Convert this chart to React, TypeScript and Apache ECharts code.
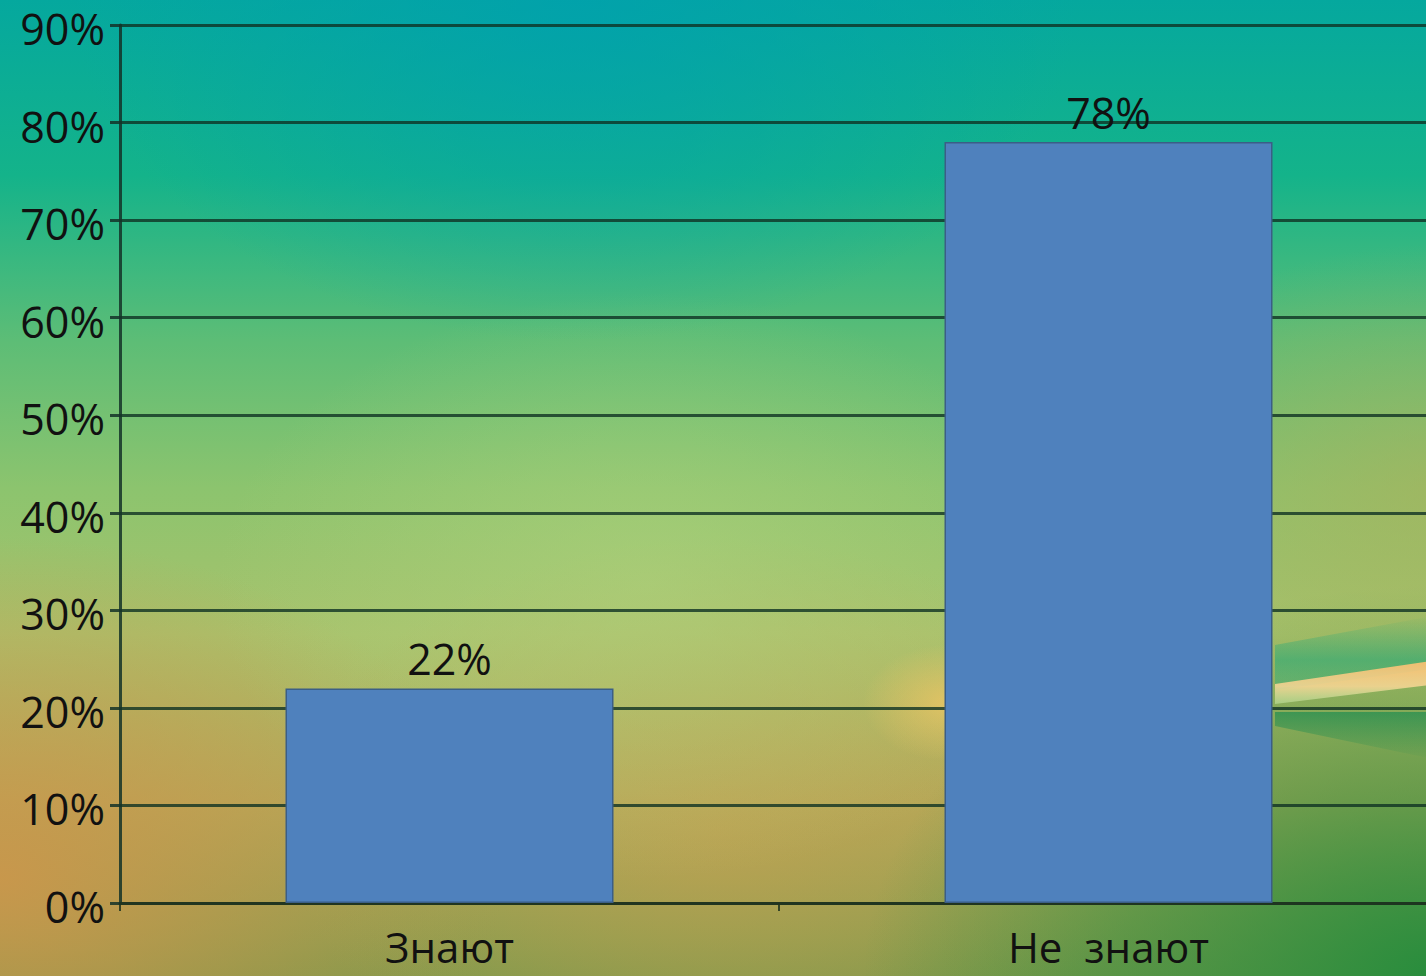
import React, { useEffect, useRef } from "react";
import * as echarts from "echarts";

const categories = ["Знают", "Не  знают"];
const values = [22, 78];
const yTicks = { min: 0, max: 90, interval: 10 };

export default function App() {
  const ref = useRef<HTMLDivElement>(null);
  useEffect(() => {
    if (!ref.current) return;
    const chart = echarts.init(ref.current, null, { renderer: "svg" });
    const font = "'Open Sans', 'Noto Sans', sans-serif";
    const W = 1438, H = 976;
    const rad = (cx: number, cy: number, r: number, stops: [number, string][]) =>
      new echarts.graphic.RadialGradient(cx, cy, r, stops.map(([o, c]) => ({ offset: o, color: c })));
    const lin = (x1: number, y1: number, x2: number, y2: number, stops: [number, string][]) =>
      new echarts.graphic.LinearGradient(x1, y1, x2, y2, stops.map(([o, c]) => ({ offset: o, color: c })));
    const full = { x: 0, y: 0, width: W, height: H };
    chart.setOption({
      animation: false,
      backgroundColor: lin(0, 0, 0, 1, [
        [0, "#05a89e"],
        [0.18, "#14b38a"],
        [0.35, "#5dbd76"],
        [0.5, "#8cc46e"],
        [0.65, "#a8c26c"],
        [0.82, "#b0aa5a"],
        [1, "#7f9a4c"],
      ]),
      graphic: [
        { type: "rect", z: -10, silent: true, shape: full,
          style: { fill: rad(0.4, 0.0, 0.35, [[0, "rgba(0,160,175,0.75)"], [1, "rgba(0,160,175,0)"]]) } },
        { type: "rect", z: -10, silent: true, shape: full,
          style: { fill: rad(0.0, 0.9, 0.35, [[0, "rgba(205,150,75,0.9)"], [1, "rgba(205,150,75,0)"]]) } },
        { type: "rect", z: -10, silent: true, shape: full,
          style: { fill: rad(0.5, 0.85, 0.3, [[0, "rgba(200,160,80,0.6)"], [1, "rgba(200,160,80,0)"]]) } },
        { type: "rect", z: -10, silent: true, shape: full,
          style: { fill: rad(1.0, 1.0, 0.4, [[0, "rgba(35,140,60,0.95)"], [1, "rgba(35,140,60,0)"]]) } },
        { type: "rect", z: -10, silent: true, shape: full,
          style: { fill: rad(1.0, 0.5, 0.25, [[0, "rgba(170,175,90,0.6)"], [1, "rgba(170,175,90,0)"]]) } },
        { type: "rect", z: -10, silent: true, shape: full,
          style: { fill: rad(0.45, 0.6, 0.3, [[0, "rgba(175,210,125,0.6)"], [1, "rgba(175,210,125,0)"]]) } },
        { type: "rect", z: -10, silent: true, shape: full,
          style: { fill: rad(0.66, 0.72, 0.06, [[0, "rgba(245,200,100,0.7)"], [1, "rgba(245,200,100,0)"]]) } },
        { type: "polygon", z: -9, silent: true,
          shape: { points: [[1275, 645], [1438, 615], [1438, 668], [1275, 690]] },
          style: { fill: lin(0, 0, 0, 1, [[0, "rgba(40,170,120,0)"], [0.6, "rgba(40,170,120,0.6)"], [1, "rgba(60,175,120,0.45)"]]) } },
        { type: "polygon", z: -9, silent: true,
          shape: { points: [[1275, 684], [1438, 660], [1438, 684], [1275, 704]] },
          style: { fill: lin(0, 0, 0, 1, [[0, "rgba(255,190,110,0.9)"], [0.6, "rgba(250,215,150,0.85)"], [1, "rgba(200,235,170,0.5)"]]) } },
        { type: "polygon", z: -9, silent: true,
          shape: { points: [[1275, 712], [1438, 712], [1438, 760], [1275, 726]] },
          style: { fill: lin(0, 0, 0, 1, [[0, "rgba(30,140,80,0.7)"], [1, "rgba(30,140,80,0)"]]) } },
      ],
      grid: { left: 120, top: 25, bottom: 73, right: 0, containLabel: false, outerBoundsMode: "none" },
      xAxis: {
        type: "category",
        data: categories,
        axisLine: { show: true, lineStyle: { color: "rgba(30,50,30,0.85)", width: 3 } },
        axisTick: { show: true, length: 8, lineStyle: { color: "rgba(30,50,30,0.85)", width: 2 } },
        axisLabel: { fontFamily: font, fontSize: 42, lineHeight: 42, color: "#111", margin: 22 },
      },
      yAxis: {
        type: "value",
        min: yTicks.min,
        max: yTicks.max,
        interval: yTicks.interval,
        axisLine: { show: true, lineStyle: { color: "rgba(20,50,40,0.85)", width: 3 } },
        axisTick: { show: true, length: 10, lineStyle: { color: "rgba(20,50,40,0.85)", width: 3 } },
        axisLabel: {
          formatter: "{a|{value}%}", color: "#111", margin: 15,
          rich: { a: { fontFamily: font, fontSize: 43, lineHeight: 40, color: "#111", padding: [7, 0, 0, 0] } },
        },
        splitLine: { show: true, lineStyle: { color: "rgba(15,50,35,0.8)", width: 3 } },
      },
      series: [
        {
          type: "bar",
          data: values,
          barWidth: 328,
          itemStyle: { color: "#4f81bd", borderColor: "#3b5e86", borderWidth: 1.5 },
          label: { show: true, position: "top", distance: 8, formatter: "{c}%", fontFamily: font, fontSize: 43, color: "#111" },
        },
      ],
    });
    return () => chart.dispose();
  }, []);
  return <div ref={ref} style={{ position: "fixed", left: 0, top: 0, width: 1438, height: 976 }} />;
}
